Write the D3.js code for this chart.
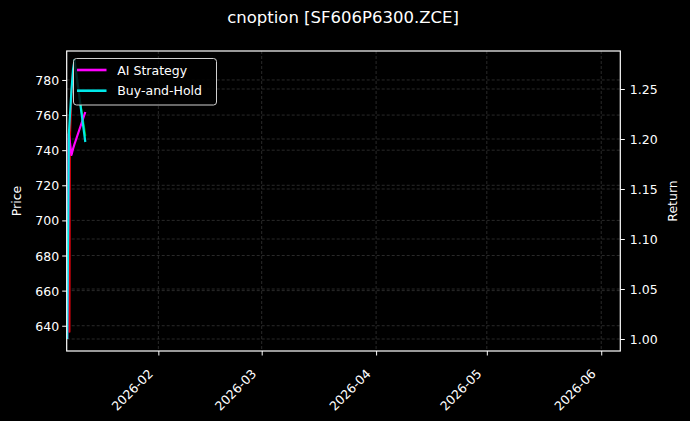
<!DOCTYPE html>
<html>
<head>
<meta charset="utf-8">
<script src="https://cdn.jsdelivr.net/npm/d3@7"></script>
<style>
    body { margin: 0; background: #000; }
    svg { display: block; font-family: 'DejaVu Sans', sans-serif; }
    .tick text { fill: #fff; font-size: 12.5px; font-family: 'DejaVu Sans', sans-serif; }
    .tick line { stroke: #fff; }
    .domain { display: none; }
</style>
</head>
<body>
<div class="visHolder"></div>
<script>
const title = 'cnoption [SF606P6300.ZCE]'

// x axis
const xDomain = ['2026-01-07 04:00', '2026-06-06 04:00']
const xTickLabels = ['2026-02', '2026-03', '2026-04', '2026-05', '2026-06']

// price (left axis)
const priceDomain = [625.6, 796.5]
const priceTicks = [640, 660, 680, 700, 720, 740, 760, 780]
const priceDates = ['2026-01-07 22:00', '2026-01-08 01:00', '2026-01-08 11:00', '2026-01-08 21:00', '2026-01-09 07:00', '2026-01-12 05:00']
const priceValues = [636.6, 745.8, 773.1, 784.6, 788.5, 748.4]

// returns (right axis)
const returnDomain = [0.988, 1.288]
const returnTicks = [1.00, 1.05, 1.10, 1.15, 1.20, 1.25]
const returnDates = ['2026-01-07 07:00', '2026-01-07 14:00', '2026-01-07 18:00', '2026-01-08 11:00', '2026-01-08 21:00', '2026-01-09 07:00', '2026-01-12 05:00']
const aiStrategy = [1.000, 1.120, 1.205, 1.184, 1.190, 1.195, 1.227]
const buyAndHold = [1.000, 1.120, 1.205, 1.249, 1.269, 1.279, 1.197]

const seriesNames = ['AI Strategy', 'Buy-and-Hold']
const seriesColors = ['#ff00ff', '#00e8e8']

function init() {
    const width = 690
    const height = 421
    const margin = { top: 51, right: 69.7, bottom: 70, left: 66.7 }
    const parse = d3.timeParse('%Y-%m-%d %H:%M')
    const parseMonth = d3.timeParse('%Y-%m')

    const svg = d3.select('.visHolder')
        .append('svg')
        .attr('width', width)
        .attr('height', height)

    svg.append('rect')
        .attr('width', width)
        .attr('height', height)
        .attr('fill', '#000')

    const x = d3.scaleTime()
        .domain(xDomain.map(parse))
        .range([margin.left, width - margin.right])
    const yPrice = d3.scaleLinear()
        .domain(priceDomain)
        .range([height - margin.bottom, margin.top])
    const yReturn = d3.scaleLinear()
        .domain(returnDomain)
        .range([height - margin.bottom, margin.top])

    const plotLeft = margin.left
    const plotRight = width - margin.right
    const plotTop = margin.top
    const plotBottom = height - margin.bottom

    // grids
    const grid = svg.append('g')
    grid.selectAll('.gx')
        .data(xTickLabels.map(parseMonth))
        .enter()
        .append('line')
        .attr('x1', d => x(d)).attr('x2', d => x(d))
        .attr('y1', plotTop).attr('y2', plotBottom)
    grid.selectAll('.gp')
        .data(priceTicks)
        .enter()
        .append('line')
        .attr('x1', plotLeft).attr('x2', plotRight)
        .attr('y1', d => yPrice(d)).attr('y2', d => yPrice(d))
    grid.selectAll('.gr')
        .data(returnTicks)
        .enter()
        .append('line')
        .attr('x1', plotLeft).attr('x2', plotRight)
        .attr('y1', d => yReturn(d)).attr('y2', d => yReturn(d))
    grid.selectAll('line')
        .attr('stroke', '#444')
        .attr('stroke-width', 0.6)
        .attr('stroke-dasharray', '3,2')

    svg.append('clipPath')
        .attr('id', 'plot-clip')
        .append('rect')
        .attr('x', plotLeft)
        .attr('y', plotTop)
        .attr('width', plotRight - plotLeft)
        .attr('height', plotBottom - plotTop)

    const lines = svg.append('g').attr('clip-path', 'url(#plot-clip)')

    // price line, red when rising and green when falling
    const pDates = priceDates.map(parse)
    for (let i = 1; i < priceValues.length; i++) {
        lines.append('line')
            .attr('x1', x(pDates[i - 1]))
            .attr('y1', yPrice(priceValues[i - 1]))
            .attr('x2', x(pDates[i]))
            .attr('y2', yPrice(priceValues[i]))
            .attr('stroke', priceValues[i] >= priceValues[i - 1] ? '#e8000b' : '#00b000')
            .attr('stroke-width', 2)
            .attr('stroke-linecap', 'round')
    }

    const rDates = returnDates.map(parse)
    const returnLine = d3.line()
        .x((d, i) => x(rDates[i]))
        .y(d => yReturn(d))

    ;[aiStrategy, buyAndHold].forEach((values, k) => {
        lines.append('path')
            .datum(values)
            .attr('d', returnLine)
            .attr('fill', 'none')
            .attr('stroke', seriesColors[k])
            .attr('stroke-width', 2.2)
            .attr('stroke-linejoin', 'round')
    })

    // axes
    const xAxis = d3.axisBottom(x)
        .tickValues(xTickLabels.map(parseMonth))
        .tickFormat(d3.timeFormat('%Y-%m'))
        .tickSizeOuter(0)
        .tickSize(4.5)
        .tickPadding(3)
    const gx = svg.append('g')
        .attr('transform', `translate(0, ${plotBottom})`)
        .call(xAxis)
    gx.selectAll('text')
        .attr('text-anchor', 'end')
        .attr('dy', null)
        .attr('y', null)
        .attr('transform', 'translate(-5, 23.5) rotate(-45)')

    const gl = svg.append('g')
        .attr('transform', `translate(${plotLeft}, 0)`)
        .call(d3.axisLeft(yPrice).tickValues(priceTicks).tickSize(4.5).tickPadding(3).tickSizeOuter(0))
    gl.selectAll('text').attr('dy', '0.36em')

    const gr = svg.append('g')
        .attr('transform', `translate(${plotRight}, 0)`)
        .call(d3.axisRight(yReturn).tickValues(returnTicks).tickFormat(d3.format('.2f')).tickSize(4.5).tickPadding(5).tickSizeOuter(0))
    gr.selectAll('text').attr('dy', '0.36em')

    ;[gx, gl, gr].forEach(g => g.attr('font-family', null).attr('font-size', null))

    // frame
    svg.append('rect')
        .attr('x', plotLeft)
        .attr('y', plotTop)
        .attr('width', plotRight - plotLeft)
        .attr('height', plotBottom - plotTop)
        .attr('fill', 'none')
        .attr('stroke', '#fff')
        .attr('stroke-width', 1.2)

    svg.append('text')
        .attr('x', 343)
        .attr('y', 23)
        .attr('text-anchor', 'middle')
        .attr('fill', '#fff')
        .style('font-size', '16.5px')
        .text(title)

    svg.append('text')
        .attr('transform', `translate(21, ${(plotTop + plotBottom) / 2}) rotate(-90)`)
        .attr('text-anchor', 'middle')
        .attr('fill', '#fff')
        .style('font-size', '12.5px')
        .text('Price')

    svg.append('text')
        .attr('transform', `translate(676.5, ${(plotTop + plotBottom) / 2}) rotate(-90)`)
        .attr('text-anchor', 'middle')
        .attr('fill', '#fff')
        .style('font-size', '12.5px')
        .text('Return')

    // legend
    const legend = svg.append('g')
    legend.append('rect')
        .attr('x', 73.5)
        .attr('y', 58.5)
        .attr('width', 143)
        .attr('height', 46.5)
        .attr('rx', 3)
        .attr('fill', '#000')
        .attr('fill-opacity', 0.85)
        .attr('stroke', '#d0d0d0')
        .attr('stroke-width', 1)

    seriesNames.forEach((name, i) => {
        const cy = 70 + i * 20.7
        legend.append('line')
            .attr('x1', 77)
            .attr('x2', 106.5)
            .attr('y1', cy)
            .attr('y2', cy)
            .attr('stroke', seriesColors[i])
            .attr('stroke-width', 2.6)
        legend.append('text')
            .attr('x', 117.3)
            .attr('y', cy)
            .attr('dy', '0.36em')
            .attr('fill', '#fff')
            .style('font-size', '12.5px')
            .text(name)
    })
}

init()
</script>
</body>
</html>
